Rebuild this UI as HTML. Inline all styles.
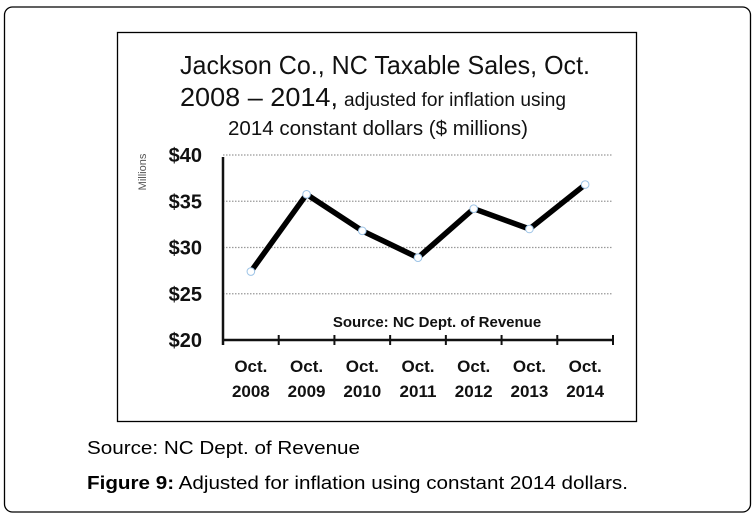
<!DOCTYPE html>
<html><head><meta charset="utf-8"><style>
html,body{margin:0;padding:0;background:#fff;}
svg{display:block;}
.cal{font-family:"Liberation Sans Narrow","Liberation Sans",sans-serif;}
.ar{font-family:"Liberation Sans",sans-serif;}
</style></head><body>
<svg id="chart" width="754" height="520" viewBox="0 0 754 520" xmlns="http://www.w3.org/2000/svg">
<rect x="4.5" y="7" width="746" height="505" rx="8" fill="#fff" stroke="#000" stroke-width="1.3"/>
<rect x="117.5" y="32.5" width="519" height="389" fill="#fff" stroke="#000" stroke-width="1.3"/>
<g class="cal" fill="#111">
<text x="180" y="74" font-size="26" textLength="410" lengthAdjust="spacingAndGlyphs">Jackson Co., NC Taxable Sales, Oct.</text>
<text x="180" y="106" font-size="26" textLength="158" lengthAdjust="spacingAndGlyphs">2008 – 2014,</text>
<text x="344" y="106" font-size="19" textLength="222" lengthAdjust="spacingAndGlyphs">adjusted for inflation using</text>
<text x="228" y="135" font-size="20" textLength="300" lengthAdjust="spacingAndGlyphs">2014 constant dollars ($ millions)</text>
</g>
<text class="cal" x="0" y="0" transform="translate(146,172) rotate(-90)" font-size="11" fill="#555" text-anchor="middle">Millions</text>
<g id="grid"></g>
<g id="axes"></g>
<g id="series"></g>
<text class="cal" x="437" y="327" font-size="15" font-weight="bold" fill="#111" text-anchor="middle">Source: NC Dept. of Revenue</text>
<text class="ar" x="87" y="454" font-size="18" fill="#000" textLength="273" lengthAdjust="spacingAndGlyphs">Source: NC Dept. of Revenue</text>
<text class="ar" x="87" y="489" font-size="18" fill="#000" textLength="541" lengthAdjust="spacingAndGlyphs"><tspan font-weight="bold">Figure 9:</tspan> Adjusted for inflation using constant 2014 dollars.</text>
</svg>
<script>
const categories = ["2008","2009","2010","2011","2012","2013","2014"];
const values = [27.4, 35.75, 31.8, 28.9, 34.2, 32.0, 36.8];
const yTicks = [20, 25, 30, 35, 40];
const yTickLabels = ["$20","$25","$30","$35","$40"];

const NS = "http://www.w3.org/2000/svg";
const X0 = 223, X1 = 613, Y0 = 340, Y1 = 155, YMIN = 20, YMAX = 40;
const band = (X1 - X0) / categories.length;
function xPos(i){ return X0 + band * (i + 0.5); }
function yPos(v){ return Y0 - (v - YMIN) / (YMAX - YMIN) * (Y0 - Y1); }
function mk(tag, attrs, parent){ const e = document.createElementNS(NS, tag); for (const k in attrs) e.setAttribute(k, attrs[k]); parent.appendChild(e); return e; }

const grid = document.getElementById('grid'), axes = document.getElementById('axes'), series = document.getElementById('series');
yTicks.forEach((t, i) => {
  const y = yPos(t);
  if (t !== YMIN) {
    const g = mk('line', {x1: X0, x2: X1, y1: y, y2: y, stroke: '#999', 'stroke-width': 1.2, 'stroke-dasharray': '1.5 1.5'}, grid);
    
    
  }
  const l = mk('text', {x: 202, y: y + 7, 'font-size': 20, 'font-weight': 'bold', 'text-anchor': 'end', fill: '#111', class: 'cal'}, axes);
  l.textContent = yTickLabels[i];
  
  
});
const ya = mk('line', {x1: X0, x2: X0, y1: Y1 + 2, y2: Y0 + 5, stroke: '#111', 'stroke-width': 2.5}, axes);


const xa = mk('line', {x1: X0, x2: X1, y1: Y0, y2: Y0, stroke: '#111', 'stroke-width': 2.5}, axes);


for (let i = 0; i <= categories.length; i++) {
  const x = X0 + band * i;
  const tk = mk('line', {x1: x, x2: x, y1: Y0 - 5, y2: Y0 + 5, stroke: '#111', 'stroke-width': 2}, axes);
  
  
}
categories.forEach((c, i) => {
  const t = mk('text', {x: xPos(i), y: 372, 'font-size': 17, 'font-weight': 'bold', 'text-anchor': 'middle', fill: '#111', class: 'cal'}, axes);
  t.textContent = 'Oct.';
  
  
  const t2 = mk('text', {x: xPos(i), y: 397, 'font-size': 17, 'font-weight': 'bold', 'text-anchor': 'middle', fill: '#111', class: 'cal'}, axes);
  t2.textContent = c;
  
  
});
const pts = values.map((v, i) => xPos(i) + ',' + yPos(v)).join(' ');
const pl = mk('polyline', {points: pts, fill: 'none', stroke: '#000', 'stroke-width': 5.5, 'stroke-linejoin': 'round'}, series);


values.forEach((v, i) => {
  const c = mk('circle', {cx: xPos(i), cy: yPos(v), r: 3.8, fill: '#fff', stroke: '#9cc3e6', 'stroke-width': 1}, series);
  
  
});
</script>
</body></html>
